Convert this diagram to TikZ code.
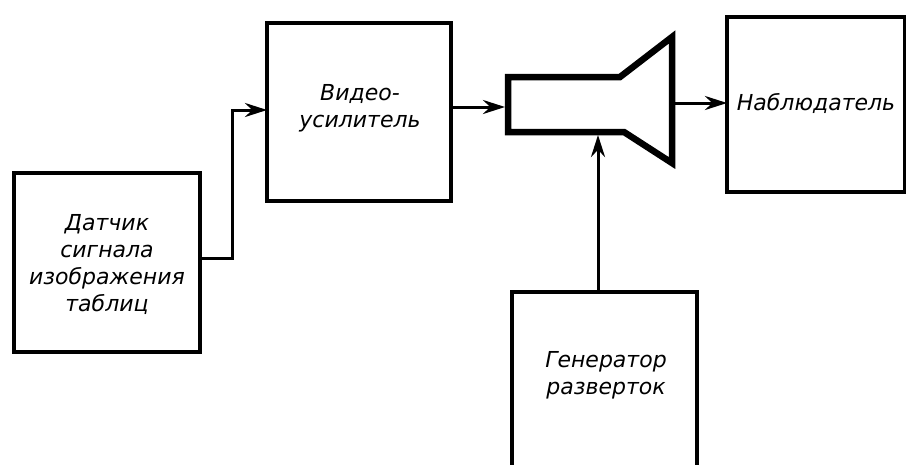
\documentclass[tikz,border=0pt]{standalone}
\usepackage{fontspec}
\setmainfont{DejaVu Sans}
\usetikzlibrary{arrows.meta}
\begin{document}
\begin{tikzpicture}[x=1pt,y=-1pt,
  blk/.style={draw, line width=3.2pt, inner sep=0pt},
  lbl/.style={font=\itshape\fontsize{22}{27}\selectfont, align=center},
  conn/.style={line width=3pt, -{Stealth[length=22pt,width=14pt]}},
  tube/.style={draw, line width=6.5pt, line join=miter}]
\useasboundingbox (0,0) rectangle (906,464);
\clip (0,0) rectangle (906,464);
% boxes
\draw[blk] (14,173) rectangle (200,352);
\node[lbl] (dat) at (107,264) {Датчик\\сигнала\\изображения\\таблиц};
\coordinate (datR) at (200,258);
\draw[blk] (267,23) rectangle (451,201);
\node[lbl] (vid) at (360,108) {Видео-\\усилитель};
\coordinate (vidL) at (267,110);
\coordinate (vidR) at (451,107);
\draw[blk] (727,17) rectangle (905,192);
\node[lbl] (nab) at (816,103) {Наблюдатель};
\coordinate (nabL) at (727,103);
\draw[blk] (512,480) -- (512,292) -- (697,292) -- (697,480);
\node[lbl] (gen) at (606,375) {Генератор\\разверток};
\coordinate (genT) at (598,292);
% CRT
\draw[tube] (508,77) -- (620,77) -- (672,37) -- (672,163) -- (624,132) -- (508,132) -- cycle;
\coordinate (crtL) at (505,107);
\coordinate (crtR) at (672,103);
\coordinate (crtB) at (598,135);
% connectors
\draw[conn] (datR) -- (232,258) -- (232,110) -- (vidL);
\draw[conn] (vidR) -- (crtL);
\draw[conn] (crtR) -- (nabL);
\draw[conn] (genT) -- (crtB);
\end{tikzpicture}
\end{document}
